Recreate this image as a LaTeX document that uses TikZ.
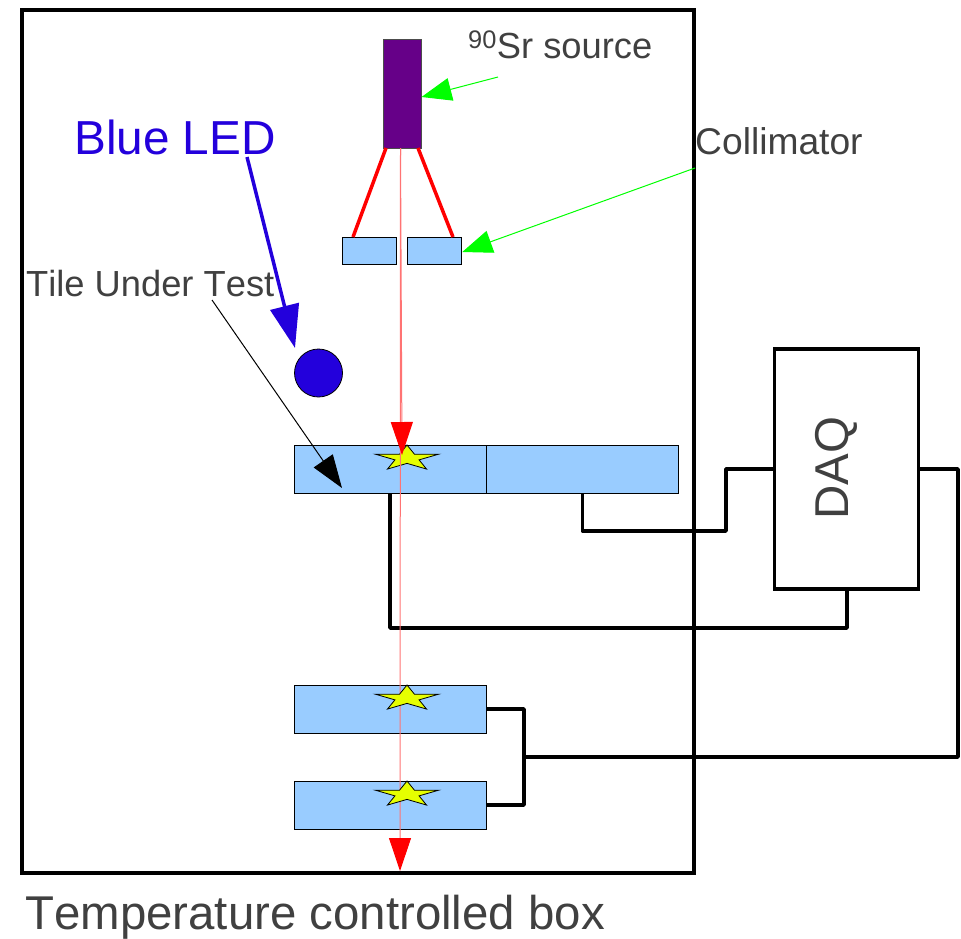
\documentclass[tikz,border=0pt]{standalone}
\usepackage{fontspec}
\setmainfont[Kerning=Off]{Liberation Sans}
\usetikzlibrary{arrows.meta,shapes.geometric}
\definecolor{tilecol}{HTML}{99CCFF}
\definecolor{ledcol}{HTML}{2300DC}
\definecolor{srccol}{HTML}{660088}
\definecolor{txtcol}{HTML}{404040}
\definecolor{starcol}{HTML}{E6FF00}
\tikzset{
tile/.style={rectangle, draw, fill=tilecol, line width=1pt, inner sep=0pt, minimum width=192pt, minimum height=48pt},
coll/.style={rectangle, draw, fill=tilecol, line width=1pt, inner sep=0pt, minimum width=54.5pt, minimum height=27pt},
sparkle/.style={star, star points=5, star point ratio=2.618, draw, fill=starcol, line width=.8pt, inner sep=0pt, minimum size=26.6pt, xscale=2.5},
wire/.style={line width=3.5pt, line join=round},
label/.style={text=txtcol, inner sep=0pt, anchor=base west},
}
\begin{document}
\begin{tikzpicture}[x=1pt,y=-1pt]
\useasboundingbox (0,0) rectangle (961,938);
\node[rectangle, draw, line width=3.5pt, inner sep=0pt, minimum width=672pt, minimum height=863pt] (box) at (358,441.5){};
\node[rectangle, draw, line width=3.5pt, inner sep=0pt, minimum width=144pt, minimum height=240pt] (daq) at (846.5,469){};
\node[rectangle, draw=black!70, fill=srccol, line width=1pt, inner sep=0pt, minimum width=38pt, minimum height=109pt] (src) at (402,93.5){};
\node[coll] (coll0) at (369.5,250.5){};
\node[coll] (coll1) at (434.5,250.5){};
\node[tile] (tile0) at (390.5,469){};
\node[tile] (tile1) at (582.5,469){};
\node[tile] (tile2) at (390.5,709){};
\node[tile] (tile3) at (390.5,805){};
\node[circle, draw, fill=ledcol, line width=.8pt, inner sep=0pt, minimum size=48pt] (led) at (318.5,373){};
\node[label, font=\fontsize{47.7}{47}\selectfont, text=ledcol] (ledtxt) at (74,154){Blue LED};
\node[label, font=\fontsize{36.3}{36}\selectfont] (tuttxt) at (26,296){Tile Under Test};
\node[label, font=\fontsize{37.2}{37}\selectfont] (colltxt) at (695,154){Collimator};
\node[label, font=\fontsize{36.3}{36}\selectfont] (srctxt) at (468,58){\textsuperscript{90}Sr source};
\node[label, font=\fontsize{47.4}{47}\selectfont] (boxtxt) at (25,929){Temperature controlled box};
\node[text=txtcol, inner sep=0pt, rotate=90, font=\fontsize{47.5}{47}\selectfont] (daqtxt) at (836.5,468.5){DAQ};
\coordinate (beam0) at (400.5,148);
\coordinate (beam1) at (402,455);
\coordinate (beam2) at (400,871);
\coordinate (srcarr) at (498,77);
\coordinate (collarr) at (695,168);
\coordinate (ledarr) at (247,157);
\coordinate (tutarr) at (212,300);
\coordinate (coll0top) at (353,237);
\coordinate (coll1top) at (453,237);
\coordinate (src0) at (386,148);
\coordinate (src1) at (418,148);
\coordinate (tile0out) at (390,493);
\coordinate (daqin) at (847,589);
\coordinate (sum) at (524,757);
\draw[red, line width=3.5pt](src0) -- (coll0top);
\draw[red, line width=3.5pt](src1) -- (coll1top);
\draw[wire](tile0out) -- (390,628) -- (847,628) -- (daqin);
\draw[wire](tile1.south) -- (582.5,531) -- (726,531) -- (726,469) -- (daq.west);
\draw[wire](tile2.east) -- (524,709) -- (524,805) -- (tile3.east);
\draw[wire](daq.east) -- (958,469) -- (958,757) -- (sum);
\node[sparkle] (star0) at (407,458.3){};
\draw[red!55, line width=1pt, -{Triangle[length=33pt,width=22pt,color=red]}](beam0) -- (beam2);
\node[sparkle] (star2) at (407,698.3){};
\node[sparkle] (star3) at (407,794.3){};
\draw[red!55, line width=1pt, -{Triangle[length=33pt,width=22pt,color=red]}](beam0) -- (beam1);
\draw[green, line width=1pt, -{Triangle[length=30pt,width=23pt]}](srcarr) -- (src.east |- 0,97);
\draw[green, line width=1pt, -{Triangle[length=30pt,width=23pt]}](collarr) -- (coll1.east |- 0,252);
\draw[ledcol, line width=3.5pt, -{Triangle[length=43pt,width=29pt]}](ledarr) -- (295,348);
\draw[black, line width=1pt, -{Triangle[length=33pt,width=23pt]}](tutarr) -- (342,488);
\end{tikzpicture}
\end{document}
